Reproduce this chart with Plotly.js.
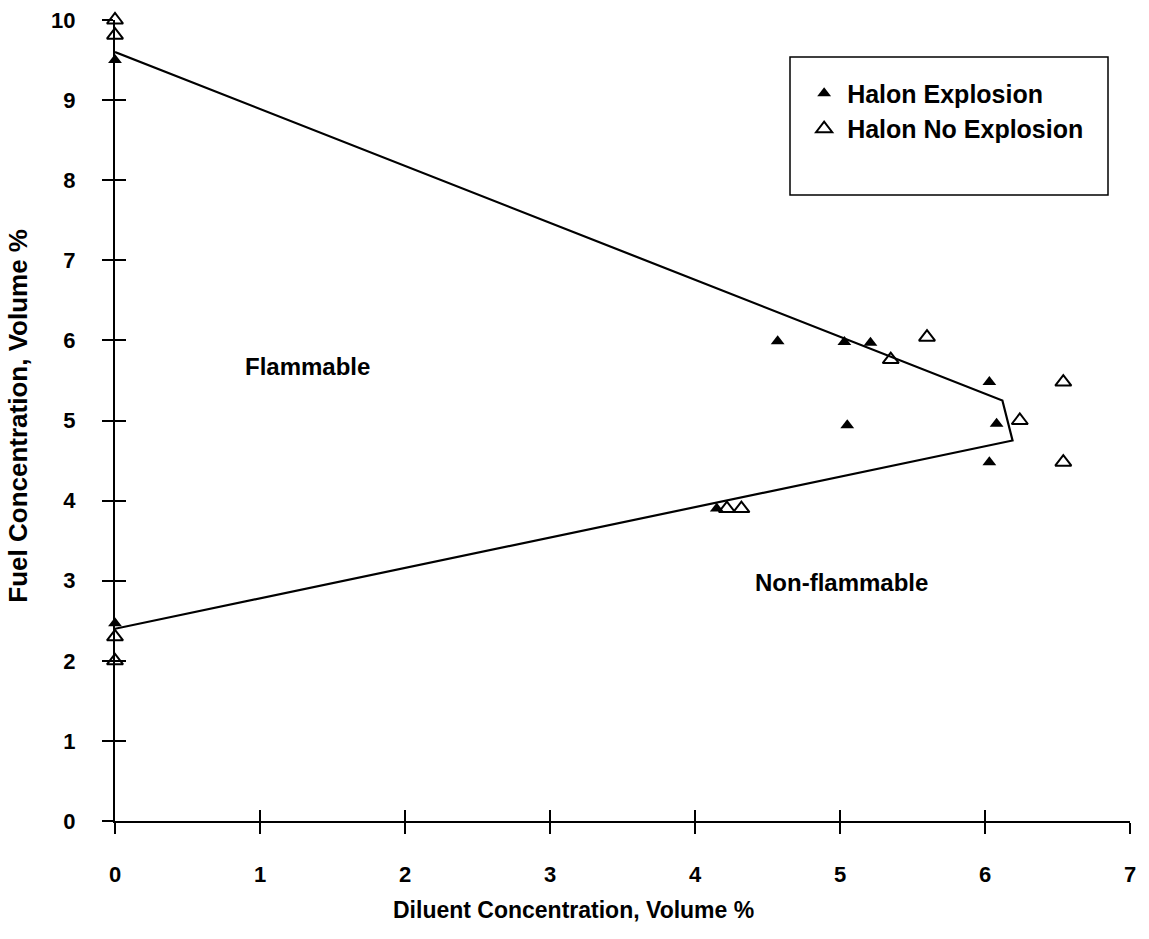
<!DOCTYPE html>
<html>
<head>
<meta charset="utf-8">
<script src="https://cdn.plot.ly/plotly-3.0.1.min.js"></script>
<style>html,body{margin:0;padding:0;background:#fff;}#chart{width:1149px;height:939px;}</style>
</head>
<body>
<div id="chart"></div>
<script>
// Data
const explosionX = [0, 0, 4.15, 4.57, 5.03, 5.21, 5.05, 6.03, 6.08, 6.03];
const explosionY = [9.5, 2.47, 3.9, 5.99, 5.98, 5.97, 4.94, 5.48, 4.96, 4.48];
const noExplosionX = [0, 0, 0, 0, 4.22, 4.32, 5.35, 5.6, 6.24, 6.54, 6.54];
const noExplosionY = [10.0, 9.81, 2.3, 2.0, 3.9, 3.9, 5.76, 6.04, 5.0, 5.48, 4.48];
const boundaryX = [0, 6.12, 6.19, 0];
const boundaryY = [9.6, 5.25, 4.75, 2.4];
const xTicks = [0, 1, 2, 3, 4, 5, 6, 7];
const yTicks = [0, 1, 2, 3, 4, 5, 6, 7, 8, 9, 10];
const seriesNames = ['Halon Explosion', 'Halon No Explosion'];
const regionLabels = ['Flammable', 'Non-flammable'];
const regionX = [1.33, 5.01];
const regionY = [5.67, 2.98];
const xTitle = 'Diluent Concentration, Volume %';
const yTitle = 'Fuel Concentration, Volume %';

const FONT = 'Liberation Sans, Arial, sans-serif';

const traces = [
  {
    x: boundaryX, y: boundaryY, mode: 'lines', type: 'scatter',
    line: {color: '#000', width: 2.2}, showlegend: false, hoverinfo: 'skip'
  },
  {
    x: explosionX, y: explosionY, mode: 'markers', type: 'scatter', name: seriesNames[0],
    cliponaxis: false,
    marker: {symbol: 'triangle-up', size: 12, color: '#000'}
  },
  {
    x: noExplosionX, y: noExplosionY, mode: 'markers', type: 'scatter', name: seriesNames[1],
    cliponaxis: false,
    marker: {symbol: 'triangle-up-open', size: 14, color: '#000', line: {width: 2, color: '#000'}}
  },
  {x: [0], y: [0], xaxis: 'x2', yaxis: 'y2', mode: 'markers', marker: {opacity: 0}, showlegend: false, hoverinfo: 'skip'}
];

const annotations = regionLabels.map((t, i) => ({
  x: regionX[i], y: regionY[i], xref: 'x', yref: 'y', text: t, showarrow: false,
  font: {family: FONT, size: 24, color: '#000', weight: 'bold'}
}));
annotations.push({
  x: 3.16, y: -0.111, xref: 'x', yref: 'paper', text: xTitle, showarrow: false,
  yanchor: 'middle', font: {family: FONT, size: 23, color: '#000', weight: 'bold'}
});
annotations.push({
  x: 0, y: 0.506, xref: 'paper', yref: 'paper', xshift: -97, text: yTitle, showarrow: false,
  textangle: -90, xanchor: 'center', yanchor: 'middle',
  font: {family: FONT, size: 26, color: '#000', weight: 'bold'}
});

const axisCommon = {
  showgrid: false, zeroline: false, showline: true, linecolor: '#000', linewidth: 2,
  ticks: 'outside', ticklen: 11, tickwidth: 2, tickcolor: '#000',
  tickfont: {family: FONT, size: 22, color: '#000', weight: 'bold'}
};

const layout = {
  width: 1149, height: 939,
  margin: {l: 115, r: 19, t: 20, b: 118},
  paper_bgcolor: '#fff', plot_bgcolor: '#fff',
  showlegend: true,
  xaxis: Object.assign({}, axisCommon, {range: [0, 7], tickvals: xTicks, ticktext: xTicks.map(String), ticklabelstandoff: 22}),
  yaxis: Object.assign({}, axisCommon, {range: [0, 10], tickvals: yTicks, ticktext: yTicks.map(String), ticklabelstandoff: 22}),
  xaxis2: {overlaying: 'x', range: [0, 7], tickvals: xTicks, ticks: 'inside', ticklen: 11, tickwidth: 2, tickcolor: '#000', showticklabels: false, showline: false, showgrid: false, zeroline: false, side: 'bottom'},
  yaxis2: {overlaying: 'y', range: [0, 10], tickvals: yTicks, ticks: 'inside', ticklen: 11, tickwidth: 2, tickcolor: '#000', showticklabels: false, showline: false, showgrid: false, zeroline: false, side: 'left'},
  legend: {
    x: 0.676, y: 0.937, xanchor: 'left', yanchor: 'top',
    bgcolor: 'rgba(0,0,0,0)', borderwidth: 0, itemwidth: 36,
    font: {family: FONT, size: 25, color: '#000', weight: 'bold'}
  },
  shapes: [{
    type: 'rect', xref: 'paper', yref: 'paper',
    x0: (790 - 115) / 1015, x1: (1108 - 115) / 1015,
    y0: (821 - 195) / 801, y1: (821 - 57) / 801,
    line: {color: '#000', width: 1.5}, fillcolor: 'rgba(0,0,0,0)'
  }],
  annotations: annotations
};

Plotly.newPlot('chart', traces, layout, {staticPlot: true, displayModeBar: false});
</script>
</body>
</html>
